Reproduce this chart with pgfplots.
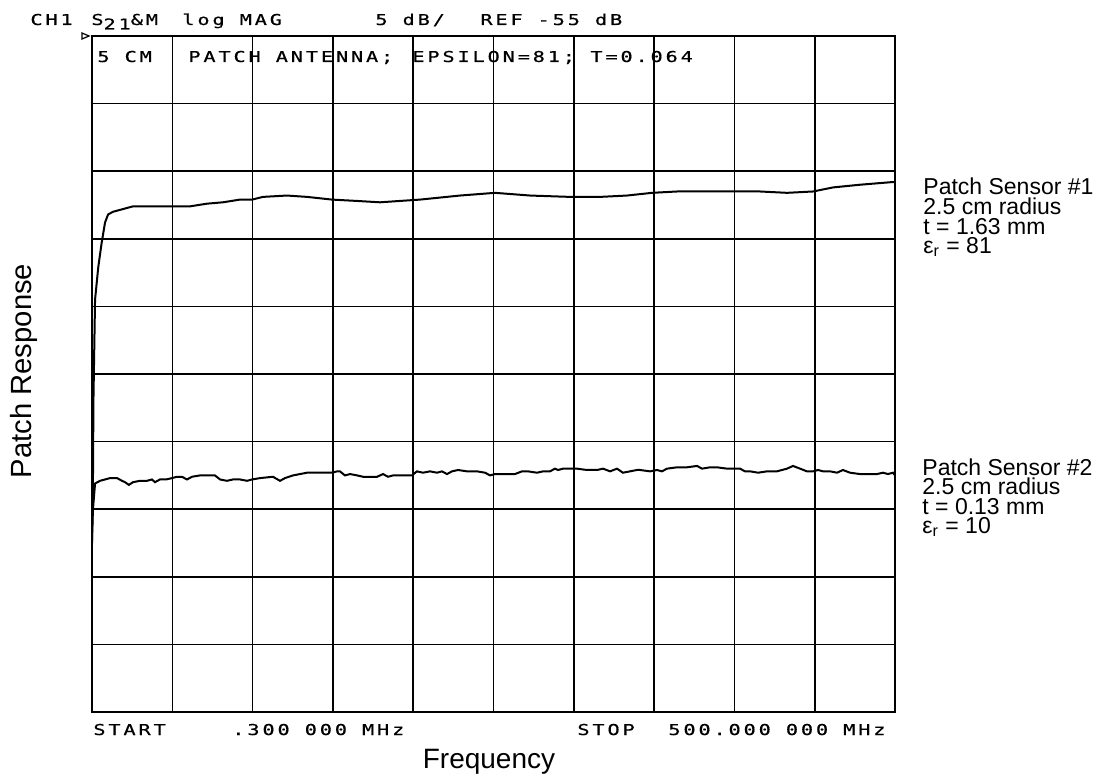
\documentclass[border=0pt]{standalone}
\usepackage{fontspec}
\setmainfont{Liberation Sans}
\newfontfamily\plotter[FakeStretch=1.35,LetterSpace=19,FakeBold=0.6]{DejaVu Sans Mono}
\usepackage{graphicx}
\usepackage{pgfplots}
\pgfplotsset{compat=1.18}
\newcommand{\pf}{\plotter\fontsize{7.5}{8}\selectfont}
\newcommand{\af}{\fontsize{11.5}{10}\selectfont}
\begin{document}
\begin{tikzpicture}
\begin{scope}[shift={(-46pt,356pt)},x=0.5pt,y=-0.5pt]
\useasboundingbox (0,0) rectangle (1101,778);
\end{scope}
\begin{axis}[at={(0,0)}, anchor=south west, scale only axis,
  width=401.5pt, height=338pt,
  xmin=0.3, xmax=500, ymin=-105, ymax=-55,
  xtick={0.3,50.27,100.24,150.21,200.18,250.15,300.12,350.09,400.06,450.03,500},
  ytick={-105,-100,...,-55},
  xticklabels={}, yticklabels={},
  major tick length=0pt,
  grid=major, grid style={black, line width=0.8pt, solid},
  axis line style={line width=0.9pt}]
% Patch Sensor #1
\addplot[black, line width=1pt] coordinates {
(0.3,-92.5) (0.9,-87.8) (1.2,-81.9) (2.2,-74.5) (4.2,-72.1) (6.3,-70.3)
(8.4,-68.8) (10.3,-68.2) (13.4,-68.0) (19.6,-67.8) (25.8,-67.6) (34.5,-67.6)
(50.1,-67.6) (61.3,-67.6) (71.9,-67.4) (81.8,-67.3) (92.4,-67.1) (99.9,-67.1)
(106.7,-66.9) (121.6,-66.8) (134.1,-66.9) (149.7,-67.1) (165.2,-67.2) (179.5,-67.3)
(204.4,-67.1) (229.3,-66.8) (251.1,-66.6) (272.9,-66.8) (297.8,-66.9) (316.4,-66.9)
(333.2,-66.8) (348.8,-66.6) (364.4,-66.5) (383.0,-66.5) (399.2,-66.5) (416.0,-66.5)
(432.8,-66.6) (449.0,-66.5) (461.4,-66.2) (478.2,-66.0) (498.8,-65.8) (500,-65.8)
};
% Patch Sensor #2
\addplot[black, line width=1pt] coordinates {
(0.3,-92.3) (0.9,-90.0) (2.2,-88.1) (5.3,-87.9) (11.5,-87.7) (15.9,-87.7)
(19.0,-87.9) (20.8,-88.0) (23.3,-88.2) (25.8,-88.0) (30.2,-87.9) (34.5,-87.9)
(37.6,-87.8) (39.5,-88.0) (42.6,-87.8) (46.4,-87.8) (50.1,-87.7) (53.2,-87.6)
(56.3,-87.6) (59.4,-87.8) (62.5,-87.6) (67.5,-87.5) (71.9,-87.5) (76.8,-87.5)
(80.0,-87.8) (84.3,-87.9) (88.0,-87.8) (92.4,-87.8) (96.8,-87.9) (99.9,-87.8)
(104.8,-87.7) (112.9,-87.6) (117.3,-87.9) (120.4,-87.7) (125.4,-87.5) (134.1,-87.3)
(142.2,-87.3) (149.7,-87.3) (152.8,-87.2) (154.6,-87.2) (157.7,-87.5) (160.9,-87.4)
(165.2,-87.5) (169.0,-87.6) (175.2,-87.6) (177.7,-87.6) (181.4,-87.4) (184.5,-87.6)
(187.6,-87.5) (193.8,-87.5) (199.4,-87.5) (202.5,-87.2) (206.3,-87.3) (210.6,-87.2)
(215.0,-87.3) (218.1,-87.2) (221.2,-87.4) (224.3,-87.2) (228.1,-87.1) (233.7,-87.2)
(239.9,-87.2) (244.9,-87.3) (248.0,-87.5) (251.1,-87.4) (256.1,-87.4) (263.5,-87.4)
(267.9,-87.2) (271.6,-87.2) (277.2,-87.3) (281.0,-87.2) (285.3,-87.2) (288.4,-87.0)
(290.3,-87.1) (293.4,-87.0) (297.8,-87.0) (302.1,-87.0) (308.3,-87.1) (314.6,-87.1)
(318.3,-87.0) (322.7,-87.2) (327.0,-87.0) (330.7,-87.3) (335.1,-87.2) (339.4,-87.1)
(341.3,-87.1) (347.6,-87.2) (351.9,-87.1) (355.0,-87.2) (358.1,-87.0) (364.4,-86.9)
(370.6,-86.9) (376.8,-86.8) (379.9,-87.0) (384.9,-86.9) (389.2,-86.9) (395.4,-87.0)
(399.2,-87.0) (403.5,-87.0) (406.7,-87.2) (409.8,-87.2) (414.8,-87.3) (420.3,-87.2)
(426.5,-87.2) (432.8,-87.0) (436.5,-86.8) (440.9,-87.0) (445.2,-87.2) (449.0,-87.2)
(452.1,-87.1) (455.2,-87.2) (459.6,-87.2) (463.9,-87.3) (467.6,-87.1) (472.0,-87.3)
(478.2,-87.4) (484.5,-87.4) (488.8,-87.4) (492.5,-87.3) (495.6,-87.4) (498.8,-87.3)
(500.0,-87.5)
};
\end{axis}
\begin{scope}[shift={(-46pt,356pt)},x=0.5pt,y=-0.5pt]
% reference marker
\draw[line width=0.6pt] (82,33) -- (89,36) -- (82,39) -- cycle;
% plotter header
\node[anchor=base west, inner sep=0pt] at (30,25) {\pf CH1};
\node[anchor=base west, inner sep=0pt] at (91,25) {\pf S\raisebox{-0.3em}{21}\&M};
\node[anchor=base west, inner sep=0pt] at (182,25) {\pf log MAG};
\node[anchor=base west, inner sep=0pt] at (375,25) {\pf 5 dB/};
\node[anchor=base west, inner sep=0pt] at (480,25) {\pf REF -55 dB};
\node[anchor=base west, inner sep=0pt] at (97,62) {\pf 5 CM};
\node[anchor=base west, inner sep=0pt] at (188,62) {\pf PATCH ANTENNA;};
\node[anchor=base west, inner sep=0pt] at (412,62) {\pf EPSILON=81;};
\node[anchor=base west, inner sep=0pt] at (590,62) {\pf T=0.064};
\node[anchor=base west, inner sep=0pt] at (93,735) {\pf START};
\node[anchor=base west, inner sep=0pt] at (232,735) {\pf .300 000 MHz};
\node[anchor=base west, inner sep=0pt] at (577,735) {\pf STOP};
\node[anchor=base west, inner sep=0pt] at (668,735) {\pf 500.000 000 MHz};
% axis titles
\node[anchor=base, inner sep=0pt] at (489,768) {\fontsize{14}{16}\selectfont Frequency};
\node[anchor=base, inner sep=0pt, rotate=90] at (31,371) {\fontsize{14.6}{16}\selectfont Patch Response};
% annotations
\node[anchor=base west, inner sep=0pt] at (923,195) {\af Patch Sensor \#1};
\node[anchor=base west, inner sep=0pt] at (923,214.5) {\af 2.5 cm radius};
\node[anchor=base west, inner sep=0pt] at (923,234) {\af t = 1.63 mm};
\node[anchor=base west, inner sep=0pt] at (923,253) {\af ε\textsubscript{r} = 81};
\node[anchor=base west, inner sep=0pt] at (922,475) {\af Patch Sensor \#2};
\node[anchor=base west, inner sep=0pt] at (922,494.5) {\af 2.5 cm radius};
\node[anchor=base west, inner sep=0pt] at (922,514) {\af t = 0.13 mm};
\node[anchor=base west, inner sep=0pt] at (922,533) {\af ε\textsubscript{r} = 10};
\end{scope}
\end{tikzpicture}
\end{document}
